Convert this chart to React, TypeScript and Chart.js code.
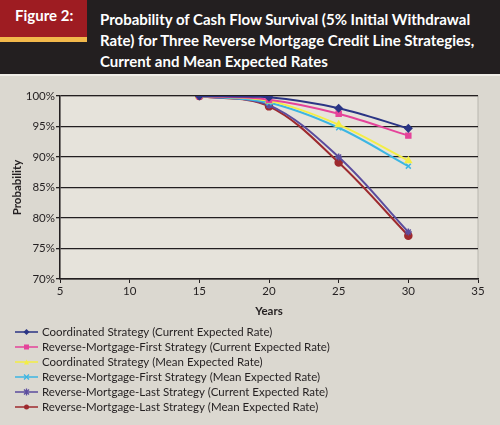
import React, { useEffect, useRef } from "react";
import { Chart, registerables } from "chart.js";

Chart.register(...registerables);

const years = [15, 20, 25, 30];
const seriesNames = [
  "Coordinated Strategy (Current Expected Rate)",
  "Reverse-Mortgage-First Strategy (Current Expected Rate)",
  "Coordinated Strategy (Mean Expected Rate)",
  "Reverse-Mortgage-First Strategy (Mean Expected Rate)",
  "Reverse-Mortgage-Last Strategy (Current Expected Rate)",
  "Reverse-Mortgage-Last Strategy (Mean Expected Rate)",
];
const coordCurrent = [100, 99.8, 98.0, 94.7];
const rmfCurrent = [100, 99.4, 97.1, 93.5];
const coordMean = [100, 99.2, 95.3, 89.4];
const rmfMean = [100, 98.9, 94.8, 88.5];
const rmlCurrent = [100, 98.5, 90.0, 77.7];
const rmlMean = [100, 98.3, 89.1, 77.1];
const seriesValues = [coordCurrent, rmfCurrent, coordMean, rmfMean, rmlCurrent, rmlMean];
const seriesColors = ["#2b3585", "#e5439a", "#f3ee45", "#3cb6e3", "#5b4d9e", "#9e2a2e"];
const pointStyles = ["rectRot", "rect", "triangle", "crossRot", "star", "circle"];
const yTicks = [70, 75, 80, 85, 90, 95, 100];
const xTicks = [5, 10, 15, 20, 25, 30, 35];

const FONT = "Lato, 'Open Sans', sans-serif";

export default function App() {
  const ref = useRef<HTMLCanvasElement | null>(null);

  useEffect(() => {
    document.body.style.margin = "0";
    const canvas = ref.current;
    if (!canvas) return;

    const bgPlugin = {
      id: "bgPlugin",
      beforeDraw(chart: any) {
        const { ctx, chartArea } = chart;
        ctx.save();
        ctx.fillStyle = "#dbd8d0";
        ctx.fillRect(0, 0, chart.width, chart.height);
        ctx.fillStyle = "#e6e3db";
        ctx.fillRect(chartArea.left, chartArea.top, chartArea.right - chartArea.left, chartArea.bottom - chartArea.top);
        ctx.strokeStyle = "#b9b6ae";
        ctx.lineWidth = 1;
        ctx.strokeRect(chartArea.left, chartArea.top, chartArea.right - chartArea.left, chartArea.bottom - chartArea.top);
        ctx.restore();
      },
    };

    function drawMarker(ctx: any, style: string, x: number, y: number, r: number) {
      ctx.beginPath();
      if (style === "circle") {
        ctx.arc(x, y, r, 0, Math.PI * 2);
        ctx.fill();
      } else if (style === "rect") {
        ctx.fillRect(x - r, y - r, 2 * r, 2 * r);
      } else if (style === "rectRot") {
        ctx.moveTo(x, y - r - 0.5);
        ctx.lineTo(x + r + 0.5, y);
        ctx.lineTo(x, y + r + 0.5);
        ctx.lineTo(x - r - 0.5, y);
        ctx.closePath();
        ctx.fill();
      } else if (style === "triangle") {
        ctx.moveTo(x, y - r);
        ctx.lineTo(x + r, y + r);
        ctx.lineTo(x - r, y + r);
        ctx.closePath();
        ctx.fill();
      } else {
        ctx.lineWidth = 1.3;
        ctx.moveTo(x - r, y - r);
        ctx.lineTo(x + r, y + r);
        ctx.moveTo(x + r, y - r);
        ctx.lineTo(x - r, y + r);
        if (style === "star") {
          ctx.moveTo(x, y - r - 1);
          ctx.lineTo(x, y + r + 1);
        }
        ctx.stroke();
      }
    }

    const legendPlugin = {
      id: "listLegend",
      afterDraw(chart: any) {
        const { ctx } = chart;
        ctx.save();
        ctx.font = `11.5px ${FONT}`;
        ctx.textBaseline = "middle";
        chart.data.datasets.forEach((ds: any, i: number) => {
          const y = 256 + i * 15;
          ctx.strokeStyle = ds.borderColor;
          ctx.lineWidth = 1.5;
          ctx.beginPath();
          ctx.moveTo(15, y);
          ctx.lineTo(38, y);
          ctx.stroke();
          ctx.fillStyle = ds.borderColor;
          ctx.strokeStyle = ds.borderColor;
          drawMarker(ctx, ds.pointStyle, 26.5, y, 2.5);
          ctx.fillStyle = "#231f20";
          ctx.fillText(ds.label, 42, y + 0.5);
        });
        ctx.restore();
      },
    };

    const chart = new Chart(canvas, {
      type: "line",
      data: {
        datasets: seriesValues.map((vals, i) => ({
          label: seriesNames[i],
          data: vals.map((v, j) => ({ x: years[j], y: v })),
          borderColor: seriesColors[i],
          backgroundColor: seriesColors[i],
          pointStyle: pointStyles[i] as any,
          pointRadius: 3.5,
          pointBorderWidth: 1.5,
          borderWidth: 2,
          tension: 0.35,
          fill: false,
        })),
      },
      options: {
        animation: false,
        responsive: false,
        layout: { padding: { left: 10, top: 20, right: 22, bottom: 107 } },
        plugins: {
          legend: { display: false },
          tooltip: { enabled: false },
        },
        scales: {
          x: {
            type: "linear",
            min: 5,
            max: 35,
            afterBuildTicks(scale: any) {
              scale.ticks = xTicks.map((v) => ({ value: v }));
            },
            afterFit(scale: any) {
              scale.height = 39;
            },
            grid: {
              drawOnChartArea: false,
              drawTicks: true,
              tickLength: 4,
              color: "#231f20",
              lineWidth: 1,
            },
            border: { color: "#231f20", width: 1.5 },
            ticks: {
              color: "#231f20",
              font: { family: FONT, size: 11.5 },
              padding: 1,
              maxRotation: 0,
            },
            title: {
              display: true,
              text: "Years",
              color: "#231f20",
              font: { family: FONT, size: 11.5, weight: "bold" },
              padding: { top: 0, bottom: 0 },
            },
          },
          y: {
            min: 70,
            max: 100,
            afterBuildTicks(scale: any) {
              scale.ticks = yTicks.map((v) => ({ value: v }));
            },
            afterFit(scale: any) {
              scale.width = 50;
            },
            grid: {
              color: "#231f20",
              lineWidth: 1.3,
              drawTicks: true,
              tickLength: 4,
            },
            border: { color: "#231f20", width: 1.5 },
            ticks: {
              color: "#231f20",
              font: { family: FONT, size: 11.5 },
              padding: 1,
              callback: (v: any) => `${v}%`,
            },
            title: {
              display: true,
              text: "Probability",
              color: "#231f20",
              font: { family: FONT, size: 11.5, weight: "bold" },
              padding: { top: 0, bottom: 0 },
            },
          },
        },
      },
      plugins: [bgPlugin, legendPlugin],
    });
    return () => chart.destroy();
  }, []);

  return (
    <div style={{ width: 500, height: 425, position: "relative", background: "#dbd8d0", fontFamily: FONT }}>
      <div style={{ position: "absolute", left: 0, top: 0, width: 500, height: 74, background: "#231f20" }}>
        <div style={{ position: "absolute", left: 0, top: 0, width: 87, height: 37, background: "#9e1c22" }} />
        <div style={{ position: "absolute", left: 0, top: 37, width: 87, height: 5, background: "#f2b84b" }} />
        <div style={{ position: "absolute", left: 15, top: 6, color: "#fff", fontWeight: 700, fontSize: 15 }}>Figure 2:</div>
        <div style={{ position: "absolute", left: 100, top: 9, width: 395, color: "#fff", fontWeight: 700, fontSize: 15, lineHeight: "21px" }}>
          Probability of Cash Flow Survival (5% Initial Withdrawal Rate) for Three Reverse Mortgage Credit Line Strategies, Current and Mean Expected Rates
        </div>
      </div>
      <div style={{ position: "absolute", left: 0, top: 74, width: 500, height: 2, background: "#efede7" }} />
      <canvas ref={ref} width={500} height={349} style={{ position: "absolute", left: 0, top: 76, width: 500, height: 349 }} />
    </div>
  );
}
